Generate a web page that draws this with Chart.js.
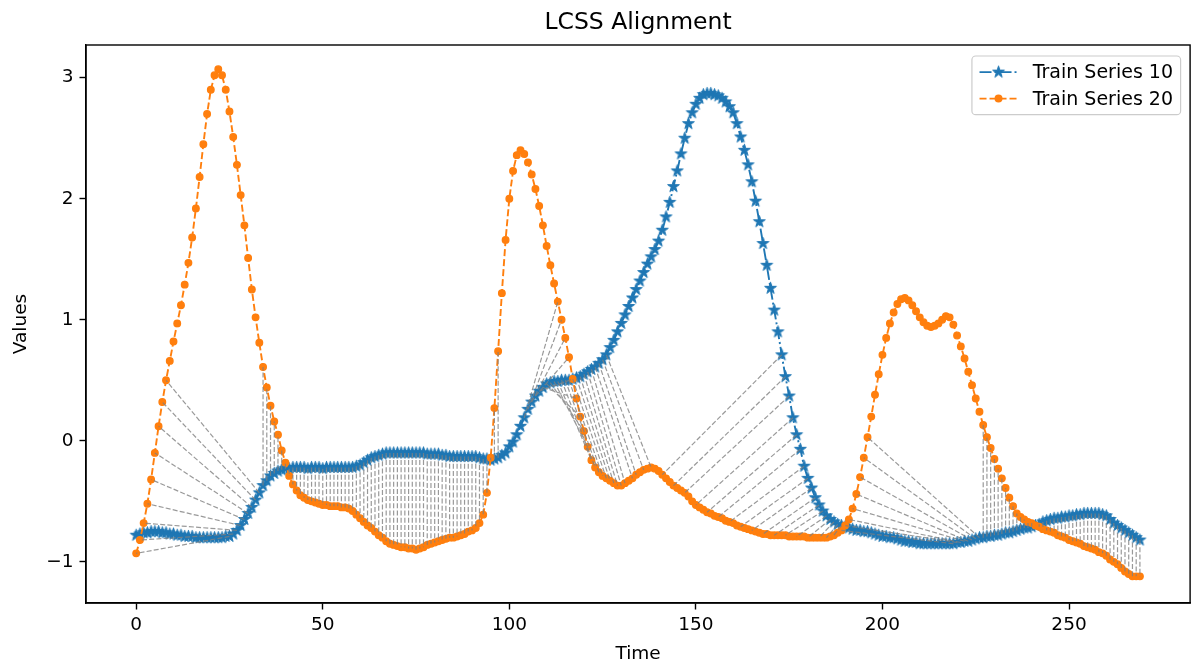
<!DOCTYPE html>
<html>
<head>
<meta charset="utf-8">
<title>LCSS Alignment</title>
<script src="https://cdn.jsdelivr.net/npm/chart.js@4.4.1/dist/chart.umd.min.js"></script>
<style>
    html, body { margin: 0; padding: 0; background: #ffffff; }
    #wrap { width: 1198px; height: 665px; }
</style>
</head>
<body>
<div id="wrap"><canvas id="lcssChart" width="1198" height="665"></canvas></div>
<script>
// Train series 10 (blue, stars), one value per time step 0..269
const seriesTen = [
    -0.78, -0.77, -0.76, -0.76, -0.75, -0.75, -0.75, -0.76, -0.76, -0.77,
    -0.77, -0.78, -0.78, -0.79, -0.79, -0.79, -0.80, -0.80, -0.80, -0.80,
    -0.80, -0.80, -0.80, -0.80, -0.79, -0.79, -0.77, -0.74, -0.70, -0.65,
    -0.60, -0.55, -0.49, -0.43, -0.37, -0.33, -0.29, -0.27, -0.25, -0.24,
    -0.23, -0.23, -0.22, -0.22, -0.22, -0.22, -0.23, -0.22, -0.22, -0.22,
    -0.23, -0.22, -0.22, -0.22, -0.22, -0.22, -0.22, -0.22, -0.22, -0.21,
    -0.20, -0.18, -0.16, -0.14, -0.13, -0.12, -0.11, -0.10, -0.10, -0.10,
    -0.10, -0.10, -0.10, -0.10, -0.10, -0.10, -0.10, -0.10, -0.11, -0.11,
    -0.11, -0.11, -0.12, -0.12, -0.13, -0.13, -0.13, -0.13, -0.13, -0.13,
    -0.13, -0.13, -0.14, -0.15, -0.15, -0.16, -0.15, -0.14, -0.12, -0.10,
    -0.05, -0.01, 0.05, 0.12, 0.19, 0.26, 0.32, 0.37, 0.41, 0.44,
    0.47, 0.48, 0.49, 0.49, 0.50, 0.50, 0.50, 0.51, 0.52, 0.53,
    0.55, 0.57, 0.59, 0.61, 0.64, 0.67, 0.71, 0.77, 0.83, 0.90,
    0.97, 1.04, 1.11, 1.18, 1.25, 1.32, 1.39, 1.46, 1.52, 1.58,
    1.65, 1.74, 1.85, 1.97, 2.10, 2.23, 2.37, 2.50, 2.62, 2.71,
    2.78, 2.83, 2.86, 2.87, 2.87, 2.86, 2.85, 2.83, 2.80, 2.76,
    2.71, 2.62, 2.51, 2.40, 2.28, 2.14, 1.98, 1.81, 1.63, 1.45,
    1.26, 1.08, 0.90, 0.71, 0.53, 0.37, 0.19, 0.05, -0.07, -0.21,
    -0.31, -0.39, -0.47, -0.53, -0.58, -0.62, -0.65, -0.67, -0.69, -0.70,
    -0.71, -0.72, -0.73, -0.74, -0.74, -0.75, -0.75, -0.76, -0.77, -0.78,
    -0.79, -0.79, -0.80, -0.80, -0.81, -0.82, -0.83, -0.83, -0.84, -0.84,
    -0.85, -0.85, -0.85, -0.85, -0.85, -0.85, -0.85, -0.85, -0.85, -0.85,
    -0.84, -0.84, -0.83, -0.83, -0.82, -0.81, -0.80, -0.80, -0.79, -0.79,
    -0.78, -0.78, -0.77, -0.76, -0.76, -0.75, -0.74, -0.73, -0.72, -0.72,
    -0.71, -0.70, -0.69, -0.67, -0.66, -0.65, -0.64, -0.64, -0.63, -0.63,
    -0.62, -0.62, -0.61, -0.61, -0.60, -0.60, -0.60, -0.60, -0.60, -0.61,
    -0.62, -0.65, -0.68, -0.70, -0.72, -0.74, -0.76, -0.78, -0.80, -0.82
];

// Train series 20 (orange, dots)
const seriesTwenty = [
    -0.93, -0.82, -0.68, -0.52, -0.32, -0.10, 0.12, 0.32, 0.50, 0.66,
    0.82, 0.97, 1.12, 1.29, 1.47, 1.68, 1.92, 2.18, 2.45, 2.70,
    2.90, 3.02, 3.07, 3.02, 2.90, 2.72, 2.51, 2.28, 2.03, 1.78,
    1.51, 1.25, 1.02, 0.81, 0.61, 0.44, 0.29, 0.16, 0.05, -0.08,
    -0.18, -0.29, -0.36, -0.41, -0.45, -0.47, -0.49, -0.50, -0.51, -0.52,
    -0.53, -0.53, -0.54, -0.54, -0.54, -0.55, -0.55, -0.56, -0.58, -0.61,
    -0.64, -0.67, -0.70, -0.72, -0.75, -0.78, -0.80, -0.83, -0.85, -0.86,
    -0.87, -0.88, -0.88, -0.89, -0.89, -0.90, -0.89, -0.88, -0.86, -0.85,
    -0.84, -0.83, -0.82, -0.81, -0.80, -0.80, -0.79, -0.78, -0.77, -0.75,
    -0.74, -0.72, -0.68, -0.61, -0.43, -0.14, 0.27, 0.74, 1.22, 1.66,
    2.00, 2.23, 2.36, 2.40, 2.37, 2.30, 2.20, 2.08, 1.94, 1.78,
    1.61, 1.45, 1.30, 1.15, 1.00, 0.85, 0.69, 0.51, 0.35, 0.20,
    0.08, -0.05, -0.16, -0.22, -0.26, -0.29, -0.31, -0.33, -0.35, -0.37,
    -0.37, -0.35, -0.33, -0.31, -0.28, -0.26, -0.24, -0.23, -0.22, -0.23,
    -0.25, -0.28, -0.31, -0.34, -0.37, -0.39, -0.41, -0.43, -0.46, -0.50,
    -0.53, -0.55, -0.57, -0.59, -0.60, -0.62, -0.63, -0.64, -0.66, -0.67,
    -0.68, -0.70, -0.71, -0.72, -0.73, -0.74, -0.75, -0.76, -0.77, -0.77,
    -0.78, -0.78, -0.78, -0.78, -0.78, -0.79, -0.79, -0.79, -0.79, -0.79,
    -0.80, -0.80, -0.80, -0.80, -0.80, -0.80, -0.79, -0.78, -0.76, -0.74,
    -0.70, -0.65, -0.56, -0.44, -0.30, -0.14, 0.03, 0.20, 0.38, 0.55,
    0.71, 0.85, 0.97, 1.06, 1.13, 1.17, 1.18, 1.16, 1.12, 1.07,
    1.02, 0.98, 0.95, 0.94, 0.95, 0.97, 1.00, 1.03, 1.02, 0.96,
    0.87, 0.78, 0.68, 0.57, 0.46, 0.35, 0.24, 0.13, 0.03, -0.06,
    -0.15, -0.23, -0.31, -0.39, -0.47, -0.54, -0.60, -0.63, -0.65, -0.67,
    -0.68, -0.70, -0.71, -0.73, -0.74, -0.75, -0.76, -0.78, -0.79, -0.80,
    -0.82, -0.83, -0.84, -0.85, -0.87, -0.88, -0.89, -0.90, -0.92, -0.93,
    -0.95, -0.98, -1.00, -1.02, -1.05, -1.08, -1.10, -1.12, -1.12, -1.12
];

// LCSS matched pairs: pathTen[k] in series 10 is matched with pathTwenty[k] in series 20
const pathTen = [
    25, 26, 27, 28, 29, 30, 31, 32, 33,
    34, 35, 36, 37, 38, 39, 40, 41, 42, 43, 44, 45, 46, 47, 48, 49,
    50, 51, 52, 53, 54, 55, 56, 57, 58, 59, 60, 61, 62, 63, 64, 65,
    66, 67, 68, 69, 70, 71, 72, 73, 74, 75, 76, 77, 78, 79, 80, 81,
    82, 83, 84, 85, 86, 87, 88, 89, 90, 91, 92, 93, 94, 95, 96, 97,
    104, 105, 106, 107, 108, 109, 110, 111, 112, 113, 114, 115, 116,
    117, 118, 119, 120, 121, 122, 123, 124, 125, 126,
    173, 174, 175, 176, 177, 178, 179, 180, 181, 182, 183, 184, 185,
    186, 187, 188, 189,
    219, 220, 221, 222, 223, 224, 225, 226,
    227, 228, 229, 230, 231, 232, 233, 234, 235, 236, 237, 238, 239,
    240, 241, 242, 243, 244, 245, 246, 247, 248, 249, 250, 251, 252,
    253, 254, 255, 256, 257, 258, 259, 260, 261, 262, 263, 264, 265,
    266, 267, 268, 269
];
const pathTwenty = [
    0, 1, 2, 3, 4, 5, 6, 7, 8,
    34, 35, 36, 37, 38, 39, 40, 41, 42, 43, 44, 45, 46, 47, 48, 49,
    50, 51, 52, 53, 54, 55, 56, 57, 58, 59, 60, 61, 62, 63, 64, 65,
    66, 67, 68, 69, 70, 71, 72, 73, 74, 75, 76, 77, 78, 79, 80, 81,
    82, 83, 84, 85, 86, 87, 88, 89, 90, 91, 92, 93, 94, 95, 96, 97,
    113, 114, 115, 116, 117, 118, 119, 120, 121, 122, 123, 124, 125,
    126, 127, 128, 129, 130, 131, 133, 134, 136, 138,
    141, 144, 147, 150, 153, 156, 159, 162, 165, 168, 171, 174, 177,
    180, 183, 185, 187,
    189, 190, 191, 192, 193, 194, 195, 196,
    227, 228, 229, 230, 231, 232, 233, 234, 235, 236, 237, 238, 239,
    240, 241, 242, 243, 244, 245, 246, 247, 248, 249, 250, 251, 252,
    253, 254, 255, 256, 257, 258, 259, 260, 261, 262, 263, 264, 265,
    266, 267, 268, 269
];

const xTickValues = [0, 50, 100, 150, 200, 250];
const yTickValues = [-1, 0, 1, 2, 3];

const BLUE = '#1f77b4';
const ORANGE = '#ff7f0e';
const FONT = "'DejaVu Sans', 'Liberation Sans', sans-serif";
const TICK_PX = 18.5;
const TITLE_TEXT = 'LCSS Alignment';

// matplotlib-like filled five point star, used as the point style
function makeStar(color, outer) {
    const size = Math.ceil(outer * 2 + 4);
    const c = document.createElement('canvas');
    c.width = size;
    c.height = size;
    const g = c.getContext('2d');
    const inner = outer * 0.381966;
    g.beginPath();
    for (let k = 0; k < 10; k++) {
        const r = k % 2 === 0 ? outer : inner;
        const a = -Math.PI / 2 + k * Math.PI / 5;
        g.lineTo(size / 2 + r * Math.cos(a), size / 2 + r * Math.sin(a));
    }
    g.closePath();
    g.fillStyle = color;
    g.fill();
    g.strokeStyle = color;
    g.lineWidth = 1;
    g.stroke();
    return c;
}
const starMarker = makeStar(BLUE, 6.2);

const tenPoints = seriesTen.map((v, i) => ({ x: i, y: v }));
const twentyPoints = seriesTwenty.map((v, i) => ({ x: i, y: v }));

// one broken line: each matched pair is its own segment, separated by a null
const alignPoints = [];
pathTen.forEach((i, k) => {
    const j = pathTwenty[k];
    alignPoints.push({ x: i, y: seriesTen[i] });
    alignPoints.push({ x: j, y: seriesTwenty[j] });
    alignPoints.push({ x: j, y: null });
});

// box around the plot area (top and right spines too) and the title centred over it
const frameBox = {
    id: 'frameBox',
    afterDatasetsDraw(chart) {
        const { ctx, chartArea: a } = chart;
        ctx.save();
        ctx.strokeStyle = '#000';
        ctx.lineWidth = 1.4;
        ctx.strokeRect(a.left, a.top, a.right - a.left, a.bottom - a.top);
        ctx.font = '23.5px ' + FONT;
        ctx.fillStyle = '#000';
        ctx.textAlign = 'center';
        ctx.textBaseline = 'middle';
        ctx.fillText(TITLE_TEXT, (a.left + a.right) / 2, 23);
        ctx.restore();
    }
};

// legend drawn in the upper right corner like the matplotlib one
const seriesKey = {
    id: 'seriesKey',
    afterDraw(chart) {
        const { ctx, chartArea: a } = chart;
        const fs = 19;
        const entries = [
            { label: 'Train Series 10', color: BLUE, dash: [12, 3, 2, 3], marker: 'star' },
            { label: 'Train Series 20', color: ORANGE, dash: [7, 3], marker: 'dot' }
        ];
        ctx.save();
        ctx.font = fs + 'px ' + FONT;
        const textW = Math.max(...entries.map(e => ctx.measureText(e.label).width));
        const borderPad = 0.4 * fs, handleLen = 2 * fs, textPad = 0.8 * fs;
        const rowH = 17, rowGap = 0.5 * fs;
        const boxW = 2 * borderPad + handleLen + textPad + textW;
        const boxH = 2 * borderPad + 2 * rowH + rowGap;
        const right = a.right - 9.5;
        const top = a.top + 11;
        const left = right - boxW;

        ctx.beginPath();
        ctx.roundRect(left, top, boxW, boxH, 0.2 * fs);
        ctx.fillStyle = 'rgba(255,255,255,0.8)';
        ctx.fill();
        ctx.strokeStyle = '#cccccc';
        ctx.lineWidth = 1.2;
        ctx.stroke();

        entries.forEach((e, k) => {
            const cy = top + borderPad + rowH / 2 + k * (rowH + rowGap);
            const hx = left + borderPad;
            ctx.beginPath();
            ctx.setLineDash(e.dash);
            ctx.strokeStyle = e.color;
            ctx.lineWidth = 1.9;
            ctx.moveTo(hx, cy);
            ctx.lineTo(hx + handleLen, cy);
            ctx.stroke();
            ctx.setLineDash([]);
            const mx = hx + handleLen / 2;
            if (e.marker === 'star') {
                ctx.drawImage(starMarker, mx - starMarker.width / 2, cy - starMarker.height / 2);
            } else {
                ctx.beginPath();
                ctx.arc(mx, cy, 4, 0, Math.PI * 2);
                ctx.fillStyle = e.color;
                ctx.fill();
            }
            ctx.fillStyle = '#000';
            ctx.textBaseline = 'middle';
            ctx.textAlign = 'left';
            ctx.fillText(e.label, hx + handleLen + textPad, cy + 1);
        });
        ctx.restore();
    }
};

Chart.defaults.font.family = FONT;
Chart.defaults.color = '#000';

new Chart(document.getElementById('lcssChart'), {
    type: 'line',
    data: {
        datasets: [
            {
                label: 'alignment',
                data: alignPoints,
                borderColor: 'rgba(128,128,128,0.8)',
                borderWidth: 1.2,
                borderDash: [5, 2.2],
                pointRadius: 0,
                spanGaps: false,
                tension: 0,
                order: 0
            },
            {
                label: 'Train Series 20',
                data: twentyPoints,
                borderColor: ORANGE,
                borderWidth: 1.9,
                borderDash: [7, 3],
                pointStyle: 'circle',
                pointRadius: 3.3,
                pointBorderWidth: 1.3,
                pointBackgroundColor: ORANGE,
                pointBorderColor: ORANGE,
                tension: 0,
                order: 1
            },
            {
                label: 'Train Series 10',
                data: tenPoints,
                borderColor: BLUE,
                borderWidth: 1.9,
                borderDash: [12, 3, 2, 3],
                pointStyle: starMarker,
                pointRadius: 6,
                tension: 0,
                order: 2
            }
        ]
    },
    options: {
        responsive: false,
        animation: false,
        events: [],
        devicePixelRatio: 1,
        layout: { padding: { left: 0, right: 1, top: 45, bottom: 0 } },
        plugins: {
            legend: { display: false },
            tooltip: { enabled: false },
            title: { display: false }
        },
        scales: {
            x: {
                type: 'linear',
                min: -13.45,
                max: 282.45,
                afterBuildTicks: (scale) => { scale.ticks = xTickValues.map(v => ({ value: v })); },
                afterFit: (scale) => { scale.height = 62; },
                ticks: {
                    font: { size: TICK_PX },
                    color: '#000',
                    padding: 5,
                    maxRotation: 0,
                    callback: (v) => String(v)
                },
                grid: { drawOnChartArea: false, drawTicks: true, tickLength: 6.5, tickColor: '#000', tickWidth: 1.4 },
                border: { display: true, color: '#000', width: 1.4 },
                title: {
                    display: true,
                    text: 'Time',
                    color: '#000',
                    font: { size: TICK_PX, lineHeight: 1.2 },
                    padding: { top: 0, bottom: 0 }
                }
            },
            y: {
                type: 'linear',
                min: -1.34,
                max: 3.27,
                afterBuildTicks: (scale) => { scale.ticks = yTickValues.map(v => ({ value: v })); },
                afterFit: (scale) => { scale.width = 86; },
                ticks: {
                    font: { size: TICK_PX },
                    color: '#000',
                    padding: 6,
                    callback: (v) => (v < 0 ? '\u2212' + Math.abs(v) : String(v))
                },
                grid: { drawOnChartArea: false, drawTicks: true, tickLength: 6.5, tickColor: '#000', tickWidth: 1.4 },
                border: { display: true, color: '#000', width: 1.4 },
                title: {
                    display: true,
                    text: 'Values',
                    color: '#000',
                    font: { size: TICK_PX, lineHeight: 1.2 },
                    padding: { top: 10, bottom: 0 }
                }
            }
        }
    },
    plugins: [frameBox, seriesKey]
});
</script>
</body>
</html>
